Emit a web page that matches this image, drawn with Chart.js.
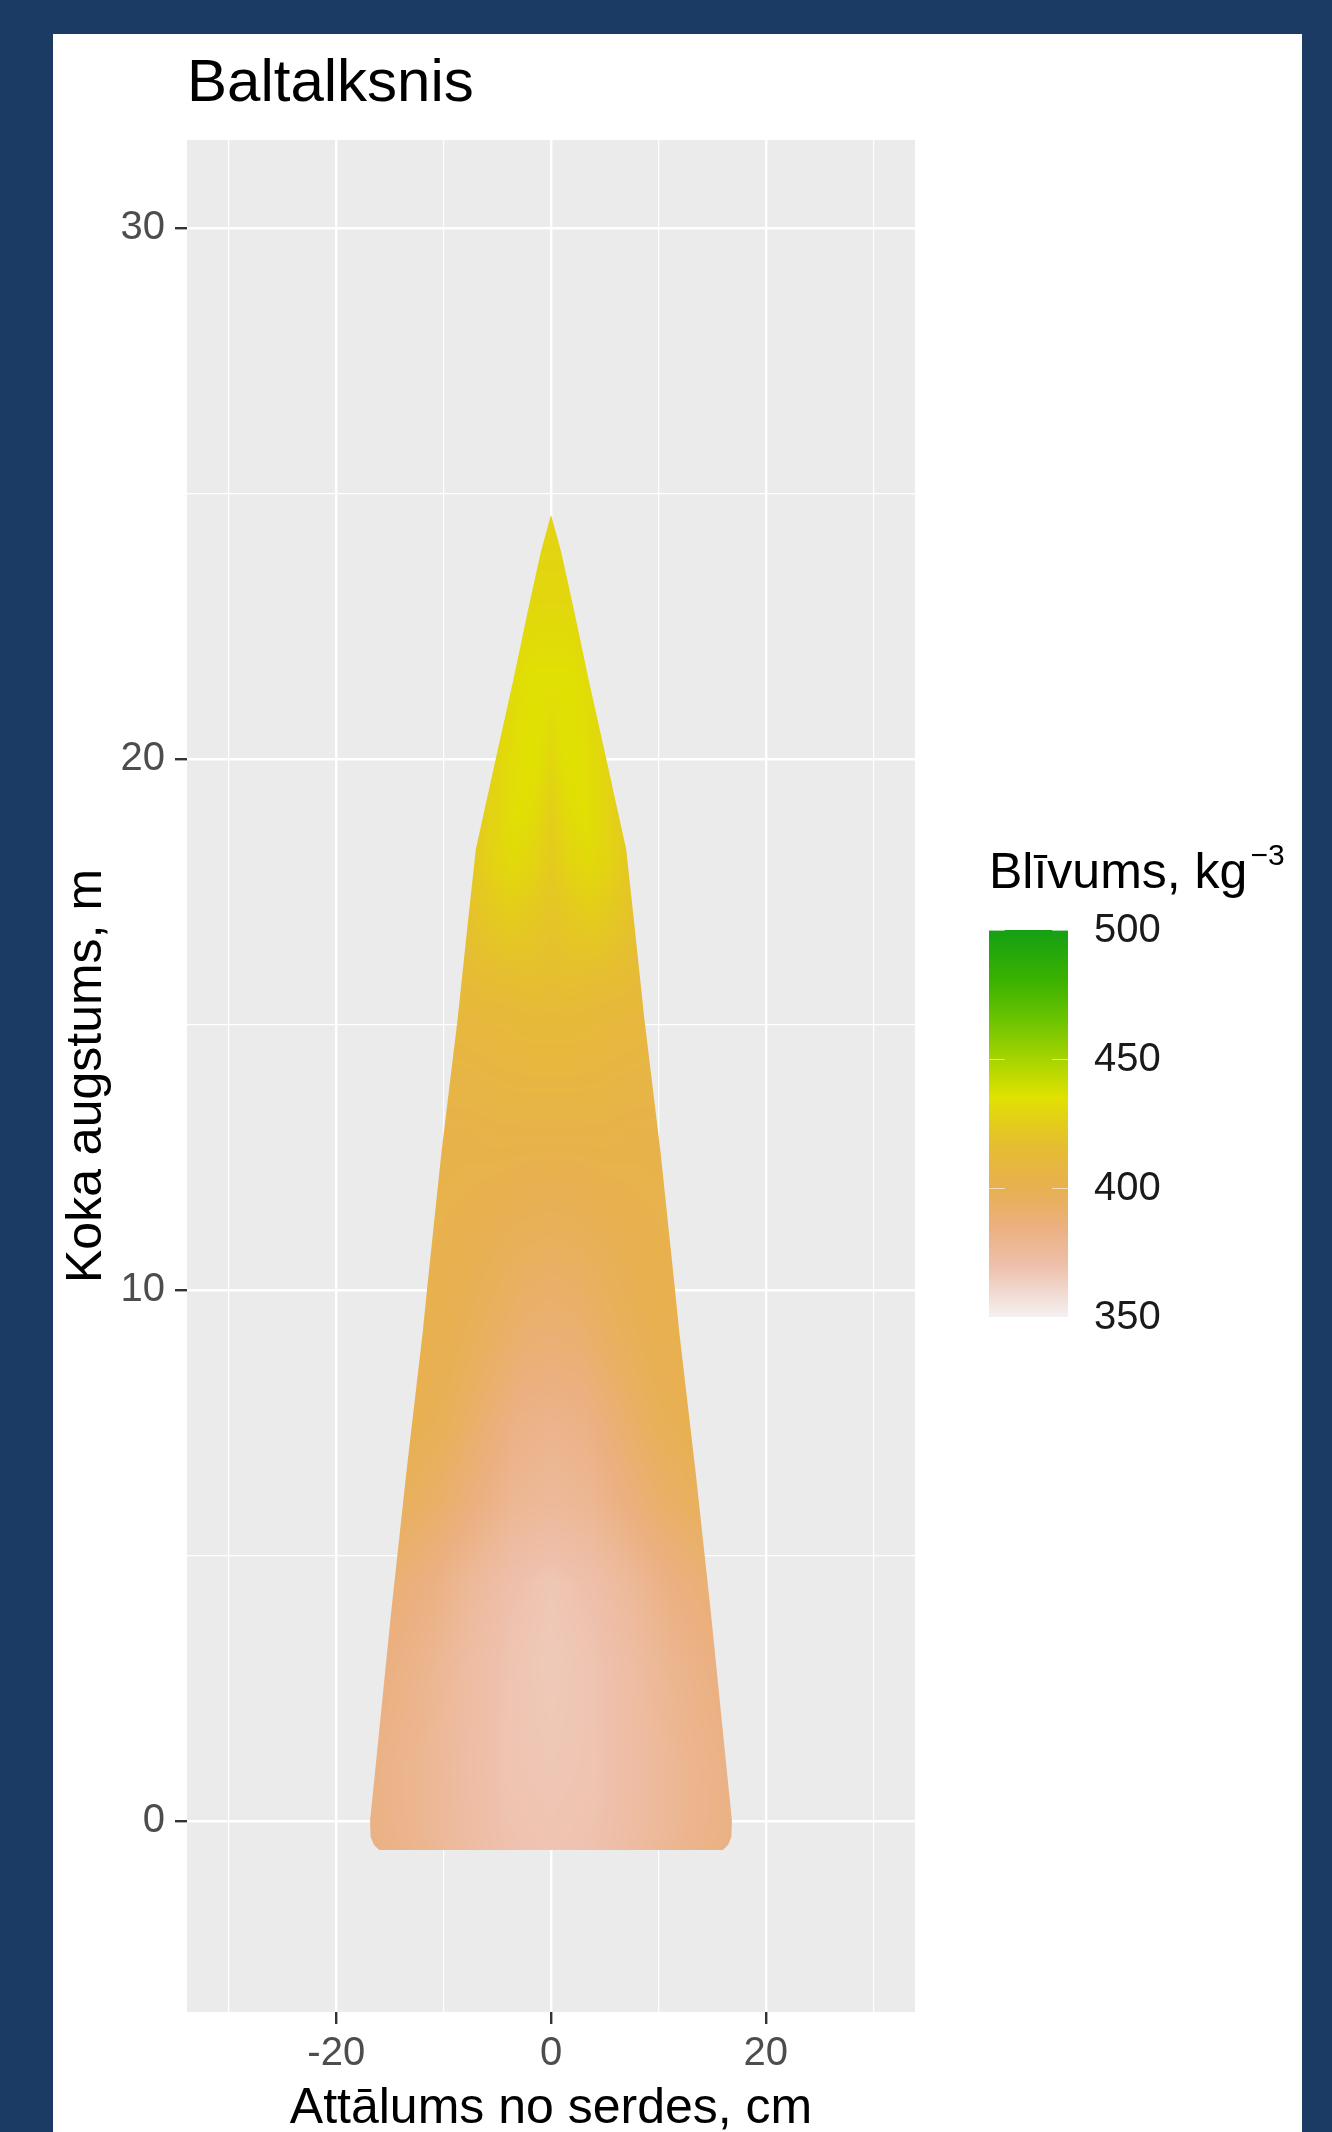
<!DOCTYPE html>
<html>
<head>
<meta charset="utf-8">
<script src="https://cdn.jsdelivr.net/npm/chart.js@4.4.1/dist/chart.umd.min.js"></script>
<style>
  html, body { margin: 0; padding: 0; background: #1b3a64; }
  #wrap { position: relative; width: 1332px; height: 2132px; overflow: hidden; }
  #card { position: absolute; left: 53px; top: 34px; width: 1249px; height: 2098px; background: #ffffff; }
  #c { position: absolute; left: 0; top: 0; }
</style>
</head>
<body>
<div id="wrap"><div id="card"></div><canvas id="c" width="1332" height="2132"></canvas></div>
<script>
// ---------------- data ----------------
const chartTitle = 'Baltalksnis';
const xTitle = 'Attālums no serdes, cm';
const yTitle = 'Koka augstums, m';
const legendTitle = 'Blīvums, kg';
const legendTitleSup = '\u22123';

const xTicks = [-20, 0, 20];
const yTicks = [0, 10, 20, 30];
const xRange = [-33.9, 33.9];
const yRange = [-3.6, 31.66];

// stem outline: height (m) and radius (cm)
const profileHeights = [-0.55, -0.45, -0.3, 0, 1.2, 3.9, 6.6, 9.2, 10.1, 12.6, 15.1, 17.0, 18.3, 20.0, 21.5, 22.8, 23.9, 24.6];
const profileRadius  = [16.0, 16.5, 16.8, 16.85, 16.25, 14.9, 13.45, 11.95, 11.5, 10.2, 8.7, 7.7, 7.0, 5.15, 3.5, 2.15, 0.95, 0];

// density (kg m-3) at heights x relative radial positions (0 = pith, 1 = bark)
const densityHeights = [-0.55, 1, 3, 4.5, 6, 7.5, 9, 11, 13, 15, 16, 17, 18, 19, 20, 21.5, 23, 24.6];
const densityRelPos = [0, 0.25, 0.5, 0.75, 1];
const densityRows = [
  [368, 369, 374, 380, 384],
  [367, 368, 373, 379, 383],
  [366, 368, 373, 380, 385],
  [367, 370, 376, 384, 389],
  [376, 378, 385, 392, 396],
  [381, 383, 390, 397, 400],
  [388, 390, 395, 399, 401],
  [396, 397, 399, 401, 402],
  [404, 404, 404, 403, 403],
  [412, 412, 411, 410, 409],
  [417, 418, 417, 416, 414],
  [420, 423, 425, 422, 418],
  [424, 429, 431, 428, 423],
  [426, 432, 434, 430, 426],
  [430, 434, 434, 432, 429],
  [434, 434, 434, 433, 432],
  [430, 430, 430, 430, 430],
  [428, 428, 428, 428, 428]
];

// colour scale
const legendTicks = [500, 450, 400, 350];
const legendRange = [350, 500];
const colourValues = [350, 360, 370, 385, 400, 415, 425, 435, 450, 465, 480, 500];
const colourHex = ['#f4f1f1', '#f1d8ce', '#eebfaa', '#ebb080', '#e8b050', '#e6bc34', '#e4cc1c', '#e0e200', '#a6d400', '#6cc400', '#3cb200', '#14a014'];

// ---------------- helpers ----------------
const FONT = "'Liberation Sans', Arial, Helvetica, sans-serif";
const near = (arr, v) => arr.some(t => Math.abs(t - v) < 1e-6);
const hexToRgb = h => [parseInt(h.slice(1, 3), 16), parseInt(h.slice(3, 5), 16), parseInt(h.slice(5, 7), 16)];
const colourRgb = colourHex.map(hexToRgb);

function colourFor(v) {
  if (v <= colourValues[0]) return colourRgb[0];
  const n = colourValues.length;
  if (v >= colourValues[n - 1]) return colourRgb[n - 1];
  for (let i = 0; i < n - 1; i++) {
    if (v <= colourValues[i + 1]) {
      const t = (v - colourValues[i]) / (colourValues[i + 1] - colourValues[i]);
      const a = colourRgb[i], b = colourRgb[i + 1];
      return [a[0] + (b[0] - a[0]) * t, a[1] + (b[1] - a[1]) * t, a[2] + (b[2] - a[2]) * t];
    }
  }
  return colourRgb[n - 1];
}
function locate(arr, v) {
  if (v <= arr[0]) return [0, 0];
  const n = arr.length;
  if (v >= arr[n - 1]) return [n - 2, 1];
  for (let i = 0; i < n - 1; i++) {
    if (v <= arr[i + 1]) return [i, (v - arr[i]) / (arr[i + 1] - arr[i])];
  }
  return [n - 2, 1];
}
function radiusAt(h) {
  const [i, t] = locate(profileHeights, h);
  return profileRadius[i] + (profileRadius[i + 1] - profileRadius[i]) * t;
}
function densityAt(h, rel) {
  const [i, t] = locate(densityHeights, h);
  const [j, u] = locate(densityRelPos, rel);
  const r0 = densityRows[i], r1 = densityRows[i + 1];
  const a = r0[j] + (r0[j + 1] - r0[j]) * u;
  const b = r1[j] + (r1[j + 1] - r1[j]) * u;
  return a + (b - a) * t;
}

// outline dataset built from the profile arrays
const outline = [];
for (let i = 0; i < profileHeights.length; i++) outline.push({ x: profileRadius[i], y: profileHeights[i] });
for (let i = profileHeights.length - 1; i >= 0; i--) outline.push({ x: -profileRadius[i], y: profileHeights[i] });

// ---------------- plugins ----------------
const panelBg = {
  id: 'panelBg',
  beforeDraw(chart) {
    const { ctx, chartArea: a } = chart;
    ctx.save();
    ctx.fillStyle = '#ebebeb';
    ctx.fillRect(a.left, a.top, a.right - a.left, a.bottom - a.top);
    ctx.restore();
  }
};

const stemField = {
  id: 'stemField',
  beforeDatasetsDraw(chart) {
    const { ctx, scales: { x, y } } = chart;
    const pts = chart.getDatasetMeta(0).data;
    let minX = Infinity, maxX = -Infinity, minY = Infinity, maxY = -Infinity;
    pts.forEach(p => { minX = Math.min(minX, p.x); maxX = Math.max(maxX, p.x); minY = Math.min(minY, p.y); maxY = Math.max(maxY, p.y); });
    const x0 = Math.floor(minX) - 1, y0 = Math.floor(minY) - 1;
    const w = Math.ceil(maxX) + 1 - x0, h = Math.ceil(maxY) + 1 - y0;
    const off = document.createElement('canvas');
    off.width = w; off.height = h;
    const octx = off.getContext('2d');
    const img = octx.createImageData(w, h);
    const d = img.data;
    for (let j = 0; j < h; j++) {
      const hv = y.getValueForPixel(y0 + j + 0.5);
      const R = Math.max(radiusAt(hv), 0.05);
      for (let i = 0; i < w; i++) {
        const xv = x.getValueForPixel(x0 + i + 0.5);
        const rel = Math.min(1, Math.abs(xv) / R);
        const c = colourFor(densityAt(hv, rel));
        const k = (j * w + i) * 4;
        d[k] = c[0]; d[k + 1] = c[1]; d[k + 2] = c[2]; d[k + 3] = 255;
      }
    }
    octx.putImageData(img, 0, 0);
    ctx.save();
    ctx.beginPath();
    pts.forEach((p, k) => k ? ctx.lineTo(p.x, p.y) : ctx.moveTo(p.x, p.y));
    ctx.closePath();
    ctx.clip();
    ctx.drawImage(off, x0, y0);
    ctx.restore();
  }
};

const colourBar = {
  id: 'colourBar',
  afterDraw(chart) {
    const { ctx, chartArea: a } = chart;
    const cy = (a.top + a.bottom) / 2;
    const bx = a.right + 74, bw = 79;
    const bt = cy - 146, bb = cy + 241;
    const span = legendRange[1] - legendRange[0];
    ctx.save();
    const g = ctx.createLinearGradient(0, bt, 0, bb);
    colourValues.forEach((v, i) => g.addColorStop((legendRange[1] - v) / span, colourHex[i]));
    ctx.fillStyle = g;
    ctx.fillRect(bx, bt, bw, bb - bt);
    // small white ticks
    ctx.strokeStyle = 'rgba(255,255,255,0.6)';
    ctx.lineWidth = 1;
    legendTicks.forEach(v => {
      const ty = Math.round(bt + (legendRange[1] - v) / span * (bb - bt)) + 0.5;
      ctx.beginPath();
      ctx.moveTo(bx, ty); ctx.lineTo(bx + bw * 0.2, ty);
      ctx.moveTo(bx + bw * 0.8, ty); ctx.lineTo(bx + bw, ty);
      ctx.stroke();
    });
    // labels
    ctx.fillStyle = '#1a1a1a';
    ctx.font = '40px ' + FONT;
    ctx.textAlign = 'left';
    ctx.textBaseline = 'middle';
    legendTicks.forEach(v => {
      const ty = bt + (legendRange[1] - v) / span * (bb - bt);
      ctx.fillText(String(v), bx + bw + 26, ty + 1);
    });
    // title with superscript
    ctx.fillStyle = '#000000';
    ctx.textBaseline = 'alphabetic';
    ctx.font = '50px ' + FONT;
    const base = cy - 188;
    ctx.fillText(legendTitle, bx, base);
    const tw = ctx.measureText(legendTitle).width;
    ctx.font = '30px ' + FONT;
    ctx.fillText(legendTitleSup, bx + tw + 3, base - 23);
    ctx.restore();
  }
};

// ---------------- chart ----------------
Chart.defaults.font.family = FONT;

new Chart(document.getElementById('c'), {
  type: 'scatter',
  data: {
    datasets: [{
      label: 'stem',
      data: outline,
      showLine: true,
      borderColor: 'rgba(0,0,0,0)',
      backgroundColor: 'rgba(0,0,0,0)',
      borderWidth: 0,
      pointRadius: 0,
      fill: false,
      tension: 0
    }]
  },
  options: {
    responsive: false,
    devicePixelRatio: 1,
    animation: false,
    events: [],
    layout: { padding: { left: 0, top: 34, right: 417, bottom: 0 } },
    plugins: {
      legend: { display: false },
      tooltip: { enabled: false },
      title: {
        display: true,
        text: chartTitle,
        align: 'start',
        fullSize: false,
        color: '#000000',
        font: { size: 60, weight: 'normal', family: FONT },
        padding: { top: 14, bottom: 20 }
      }
    },
    scales: {
      x: {
        type: 'linear',
        position: 'bottom',
        min: xRange[0],
        max: xRange[1],
        border: { display: false },
        grid: {
          color: '#ffffff',
          lineWidth: c => (c.tick && near(xTicks, c.tick.value)) ? 2.4 : 1.2,
          drawTicks: true,
          tickLength: 12,
          tickWidth: 2.4,
          tickColor: c => (c.tick && near(xTicks, c.tick.value)) ? '#333333' : 'rgba(0,0,0,0)'
        },
        ticks: {
          stepSize: 10,
          includeBounds: false,
          autoSkip: false,
          maxRotation: 0,
          padding: 6,
          color: '#4d4d4d',
          font: { size: 40, family: FONT },
          callback: v => near(xTicks, v) ? String(Math.round(v)) : ''
        },
        title: {
          display: true,
          text: xTitle,
          color: '#000000',
          font: { size: 50, family: FONT },
          padding: { top: 0, bottom: -7 }
        },
        afterFit: s => { s.height = 120; }
      },
      y: {
        type: 'linear',
        position: 'left',
        min: yRange[0],
        max: yRange[1],
        border: { display: false },
        grid: {
          color: '#ffffff',
          lineWidth: c => (c.tick && near(yTicks, c.tick.value)) ? 2.4 : 1.2,
          drawTicks: true,
          tickLength: 12,
          tickWidth: 2.4,
          tickColor: c => (c.tick && near(yTicks, c.tick.value)) ? '#333333' : 'rgba(0,0,0,0)'
        },
        ticks: {
          stepSize: 5,
          includeBounds: false,
          autoSkip: false,
          padding: 10,
          color: '#4d4d4d',
          font: { size: 40, family: FONT },
          callback: v => near(yTicks, v) ? String(Math.round(v)) : ''
        },
        title: {
          display: true,
          text: yTitle,
          color: '#000000',
          font: { size: 50, family: FONT },
          padding: { top: 57, bottom: 0 }
        },
        afterFit: s => { s.width = 187; }
      }
    }
  },
  plugins: [panelBg, stemField, colourBar]
});
</script>
</body>
</html>
